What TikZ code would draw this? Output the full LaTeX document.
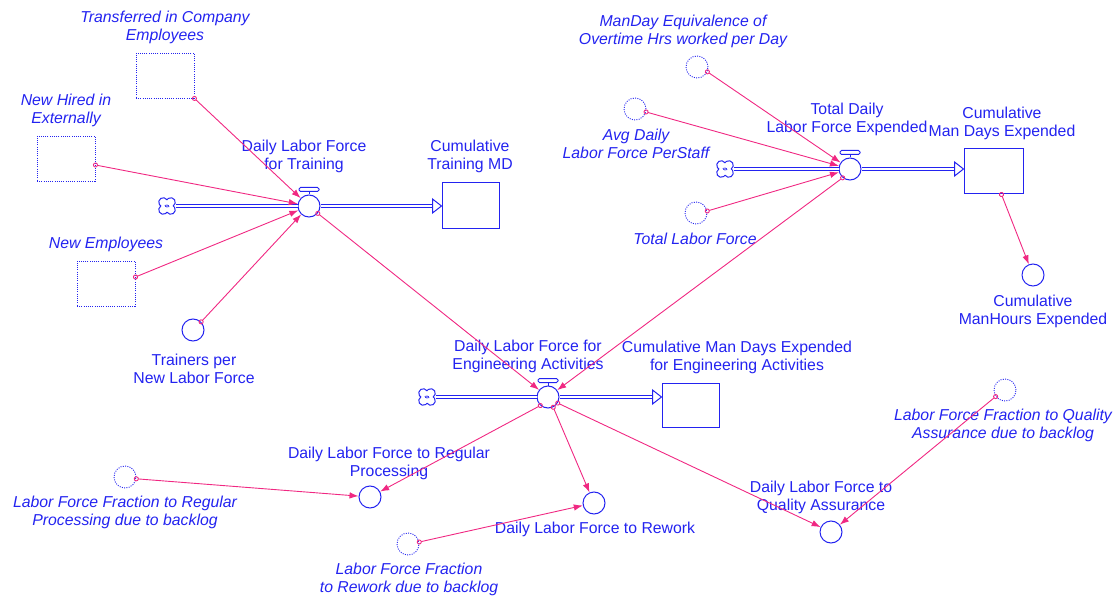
\documentclass[tikz,border=0pt]{standalone}
\usepackage{fontspec}
\setmainfont{Liberation Sans}
\usetikzlibrary{arrows.meta,calc}
\definecolor{vblue}{RGB}{35,35,240}
\definecolor{vlink}{RGB}{240,40,130}

% valve handle on top of a rate node
\newcommand\valvetop[1]{%
  \draw[vblue, line width=1pt] (#1.north) -- ++(0,-3);
  \draw[vblue, line width=1pt, rounded corners=1.5pt, fill=white]
    ($(#1.north)+(-10,-3)$) rectangle ($(#1.north)+(10,-7)$);}
% hollow head of a material flow entering a stock
\newcommand\flowhead[1]{%
  \draw[vblue, line width=1pt, fill=white, line join=miter]
    ($(#1)+(-9,-7)$) -- (#1) -- ($(#1)+(-9,7)$) -- cycle;}
% four-lobed cloud outline drawn round a source node
\newcommand\cloudmark[1]{%
  \draw[vblue, line width=1pt] ($(#1)+(0,6.2)$)
    arc[start angle=147.6, end angle=-57.6, radius=4.5]
    arc[start angle=57.6, end angle=-147.6, radius=4.5]
    arc[start angle=-32.4, end angle=-237.6, radius=4.5]
    arc[start angle=237.6, end angle=32.4, radius=4.5];
  \draw[vblue, line width=0.7pt] ($(#1)+(-2,-1)$) arc[start angle=180, end angle=60, radius=2]
    ($(#1)+(2,1)$) arc[start angle=0, end angle=-120, radius=2];}

\begin{document}
\begin{tikzpicture}[x=1pt,y=-1pt,
  lbl/.style={font=\fontsize{15.8}{18}\selectfont, text=vblue, align=center, inner sep=0pt},
  ilbl/.style={lbl, font=\fontsize{15.8}{18}\selectfont\itshape},
  stockbox/.style={draw=vblue, line width=1pt, minimum width=58pt, minimum height=45pt, inner sep=0pt},
  ghostbox/.style={stockbox, line width=0.9pt, dash pattern=on 1pt off 1.2pt},
  auxvar/.style={circle, draw=vblue, line width=1pt, minimum size=22pt, inner sep=0pt},
  ghostaux/.style={auxvar, line width=0.9pt, dash pattern=on 1pt off 1.3pt},
  valvenode/.style={auxvar, fill=white},
  cloudsrc/.style={circle, minimum size=17pt, inner sep=0pt},
  flowpipe/.style={draw=vblue, line width=0.9pt, double=white, double distance=2.2pt},
  linkarrow/.style={draw=vlink, line width=0.9pt,
    {Circle[open,length=5pt,width=5pt]}-{Latex[length=9pt,width=6.5pt]}, shorten <=-2.5pt},
]
\useasboundingbox (0,0) rectangle (1116,596);

% ---------- training chain ----------
\node[ghostbox] (trce) at (165,75.5) {};
\node[ilbl] (trcel) at (165,27.5) {Transferred in Company\\Employees};
\node[ghostbox] (nhe) at (66,158.5) {};
\node[ilbl] (nhel) at (66,110) {New Hired in\\Externally};
\node[ghostbox] (nemp) at (106,283.5) {};
\node[ilbl] (nempl) at (106,244) {New Employees};
\node[auxvar] (trn) at (193,330) {};
\node[lbl] (trnl) at (194,368.5) {Trainers per\\New Labor Force};

\node[cloudsrc] (tcl) at (167,206) {};
\cloudmark{tcl}
\node[valvenode] (tv) at (309,206) {};
\node[lbl] (tvl) at (304,156) {Daily Labor Force\\for Training};
\node[stockbox, minimum width=57pt] (tst) at (470.5,205.5) {};
\node[lbl] (tstl) at (470,156) {Cumulative\\Training MD};
\coordinate (tin) at (tst.west |- tv);
\draw[flowpipe] (tcl.east) -- (tv.west);
\draw[flowpipe] (tv.east) -- ($(tin)+(-9,0)$);
\flowhead{tin}
\valvetop{tv}

% ---------- total expended chain ----------
\node[ghostaux] (mde) at (697,67) {};
\node[ilbl] (mdel) at (683,31) {ManDay Equivalence of\\Overtime Hrs worked per Day};
\node[ghostaux] (avg) at (635,109) {};
\node[ilbl] (avgl) at (636,144) {Avg Daily\\Labor Force PerStaff};
\node[ghostaux] (tlf) at (696,213) {};
\node[ilbl] (tlfl) at (695,239) {Total Labor Force};

\node[cloudsrc] (xcl) at (725,169) {};
\cloudmark{xcl}
\node[valvenode] (xv) at (850,169) {};
\node[lbl] (xvl) at (847,119) {Total Daily\\Labor Force Expended};
\node[stockbox, minimum width=59pt] (xst) at (993.5,171.5) {};
\node[lbl] (xstl) at (1002,123) {Cumulative\\Man Days Expended};
\coordinate (xin) at (xst.west |- xv);
\draw[flowpipe] (xcl.east) -- (xv.west);
\draw[flowpipe] (xv.east) -- ($(xin)+(-9,0)$);
\flowhead{xin}
\valvetop{xv}

\node[auxvar] (cmh) at (1033,275) {};
\node[lbl] (cmhl) at (1033,311) {Cumulative\\ManHours Expended};

% ---------- engineering chain ----------
\node[cloudsrc] (ecl) at (427,397) {};
\cloudmark{ecl}
\node[valvenode] (ev) at (548,397) {};
\node[lbl] (evl) at (528,356) {Daily Labor Force for\\Engineering Activities};
\node[stockbox, minimum width=57pt, minimum height=44pt] (est) at (690.5,405) {};
\node[lbl] (estl) at (737,357) {Cumulative Man Days Expended\\for Engineering Activities};
\coordinate (ein) at (est.west |- ev);
\draw[flowpipe] (ecl.east) -- (ev.west);
\draw[flowpipe] (ev.east) -- ($(ein)+(-9,0)$);
\flowhead{ein}
\valvetop{ev}

\node[auxvar] (reg) at (370,497) {};
\node[lbl] (regl) at (389,463) {Daily Labor Force to Regular\\Processing};
\node[auxvar] (rwk) at (594,503) {};
\node[lbl] (rwkl) at (595,529) {Daily Labor Force to Rework};
\node[auxvar] (qa) at (831,532) {};
\node[lbl] (qal) at (821,497) {Daily Labor Force to\\Quality Assurance};

\node[ghostaux] (ffreg) at (125,477) {};
\node[ilbl] (ffregl) at (125,512) {Labor Force Fraction to Regular\\Processing due to backlog};
\node[ghostaux] (ffrwk) at (408,544) {};
\node[ilbl] (ffrwkl) at (409,579.5) {Labor Force Fraction\\to Rework due to backlog};
\node[ghostaux] (ffqa) at (1005,390) {};
\node[ilbl] (ffqal) at (1003,425) {Labor Force Fraction to Quality\\Assurance due to backlog};

% ---------- information links ----------
\draw[linkarrow] (trce.south east) -- (tv);
\draw[linkarrow] ($(nhe.east)+(0,6.5)$) -- (tv);
\draw[linkarrow] ($(nemp.east)+(0,-6.5)$) -- (tv);
\draw[linkarrow] (trn.north east) -- (tv);
\draw[linkarrow] (tv.-40) -- (ev);

\draw[linkarrow] (mde.-25) -- (xv);
\draw[linkarrow] (avg.-15) -- (xv);
\draw[linkarrow] (tlf.10) -- (xv);
\draw[linkarrow] (xv.230) -- (ev);
\draw[linkarrow] ($(xst.south)+(8,0)$) -- (cmh);

\draw[linkarrow] (ev.228) -- (reg);
\draw[linkarrow] (ev.-63) -- (rwk);
\draw[linkarrow] (ev.-32) -- (qa);
\draw[linkarrow] (ffreg.-9) -- (reg);
\draw[linkarrow] (ffrwk.10) -- (rwk);
\draw[linkarrow] (ffqa.215) -- (qa);
\end{tikzpicture}
\end{document}
